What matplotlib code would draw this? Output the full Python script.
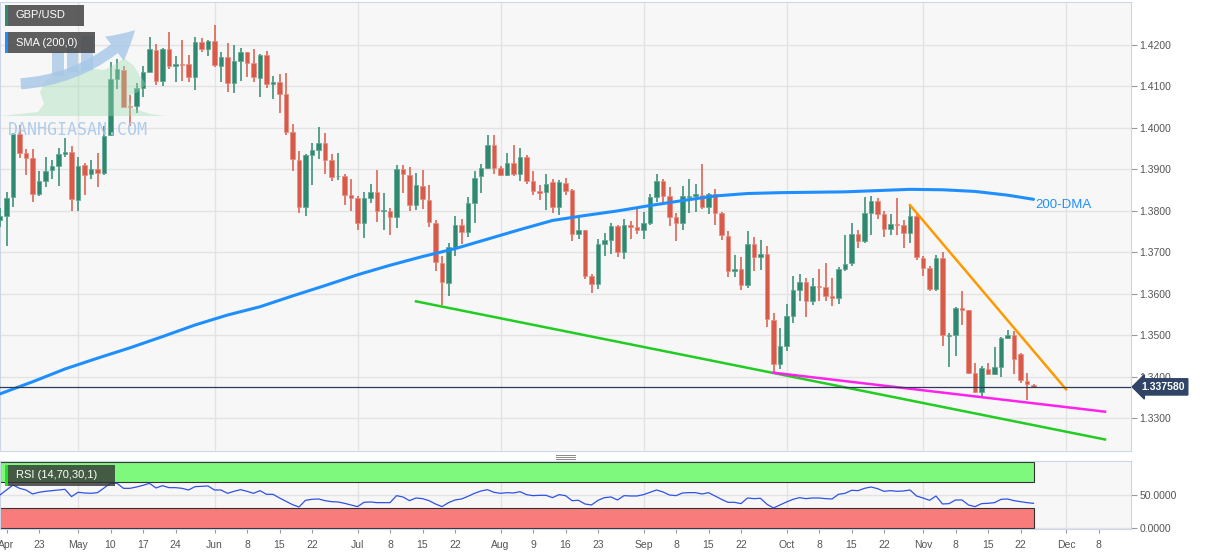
import numpy as np
import pandas as pd
import matplotlib
matplotlib.use("Agg")
import matplotlib.pyplot as plt
from matplotlib.patches import Rectangle, Polygon, FancyArrowPatch
from matplotlib.ticker import FormatStrFormatter

plt.rcParams['font.family'] = ['Liberation Sans', 'DejaVu Sans']

# GBP/USD daily candles, one per weekday starting 2021-04-15
start_day = "2021-04-15"
opens = [1.3778, 1.3788, 1.3833, 1.3985, 1.3939, 1.3927, 1.3840, 1.3873, 1.3899, 1.3909,
         1.3938, 1.3941, 1.3826, 1.3911, 1.3889, 1.3901, 1.3891, 1.3983, 1.4119, 1.4140,
         1.4053, 1.4053, 1.4097, 1.4136, 1.4188, 1.4114, 1.4190, 1.4149, 1.4155, 1.4153,
         1.4122, 1.4207, 1.4190, 1.4210, 1.4150, 1.4171, 1.4108, 1.4161, 1.4182, 1.4156,
         1.4120, 1.4177, 1.4106, 1.4112, 1.4082, 1.3990, 1.3922, 1.3810, 1.3934, 1.3946,
         1.3963, 1.3923, 1.3883, 1.3884, 1.3838, 1.3832, 1.3772, 1.3832, 1.3845, 1.3800,
         1.3801, 1.3786, 1.3902, 1.3887, 1.3814, 1.3861, 1.3827, 1.3770, 1.3675, 1.3627,
         1.3712, 1.3767, 1.3749, 1.3819, 1.3884, 1.3904, 1.3959, 1.3903, 1.3886, 1.3916,
         1.3890, 1.3930, 1.3872, 1.3847, 1.3845, 1.3870, 1.3810, 1.3868, 1.3850, 1.3745,
         1.3753, 1.3643, 1.3624, 1.3721, 1.3729, 1.3763, 1.3700, 1.3765, 1.3762, 1.3754,
         1.3770, 1.3833, 1.3873, 1.3836, 1.3786, 1.3772, 1.3834, 1.3837, 1.3838, 1.3809,
         1.3841, 1.3794, 1.3740, 1.3656, 1.3661, 1.3622, 1.3721, 1.3688, 1.3697, 1.3538,
         1.3430, 1.3474, 1.3547, 1.3610, 1.3628, 1.3582, 1.3620, 1.3616, 1.3596, 1.3590,
         1.3660, 1.3674, 1.3744, 1.3728, 1.3794, 1.3824, 1.3793, 1.3756, 1.3769, 1.3765,
         1.3746, 1.3788, 1.3686, 1.3662, 1.3612, 1.3686, 1.3498, 1.3500, 1.3565, 1.3560,
         1.3410, 1.3364, 1.3419, 1.3407, 1.3423, 1.3494, 1.3500, 1.3454, 1.3391, 1.3380]
highs = [1.3808, 1.3846, 1.3988, 1.4007, 1.3949, 1.3949, 1.3896, 1.3929, 1.3923, 1.3951,
         1.3975, 1.3957, 1.3931, 1.3916, 1.3923, 1.3940, 1.4005, 1.4158, 1.4166, 1.4149,
         1.4079, 1.4109, 1.4150, 1.4220, 1.4202, 1.4192, 1.4232, 1.4173, 1.4212, 1.4176,
         1.4220, 1.4218, 1.4212, 1.4248, 1.4182, 1.4204, 1.4199, 1.4192, 1.4184, 1.4190,
         1.4179, 1.4185, 1.4126, 1.4130, 1.4133, 1.4010, 1.3944, 1.3938, 1.3964, 1.4002,
         1.3988, 1.3938, 1.3940, 1.3888, 1.3876, 1.3836, 1.3846, 1.3864, 1.3898, 1.3844,
         1.3808, 1.3910, 1.3911, 1.3906, 1.3892, 1.3898, 1.3862, 1.3779, 1.3691, 1.3723,
         1.3787, 1.3781, 1.3834, 1.3896, 1.3914, 1.3984, 1.3984, 1.3908, 1.3940, 1.3960,
         1.3952, 1.3936, 1.3896, 1.3863, 1.3889, 1.3876, 1.3875, 1.3879, 1.3854, 1.3786,
         1.3755, 1.3648, 1.3733, 1.3747, 1.3770, 1.3766, 1.3781, 1.3775, 1.3805, 1.3798,
         1.3840, 1.3890, 1.3876, 1.3857, 1.3794, 1.3860, 1.3878, 1.3865, 1.3913, 1.3843,
         1.3852, 1.3798, 1.3752, 1.3693, 1.3690, 1.3752, 1.3737, 1.3730, 1.3716, 1.3554,
         1.3518, 1.3576, 1.3642, 1.3648, 1.3638, 1.3638, 1.3660, 1.3674, 1.3638, 1.3666,
         1.3742, 1.3772, 1.3754, 1.3833, 1.3836, 1.3830, 1.3801, 1.3793, 1.3830, 1.3777,
         1.3812, 1.3796, 1.3692, 1.3668, 1.3694, 1.3700, 1.3506, 1.3568, 1.3608, 1.3562,
         1.3434, 1.3426, 1.3434, 1.3472, 1.3496, 1.3514, 1.3510, 1.3458, 1.3410, 1.3383]
lows = [1.3761, 1.3715, 1.3810, 1.3927, 1.3887, 1.3822, 1.3836, 1.3858, 1.3876, 1.3861,
        1.3929, 1.3801, 1.3801, 1.3838, 1.3876, 1.3857, 1.3887, 1.3980, 1.4094, 1.4050,
        1.4005, 1.4035, 1.4074, 1.4134, 1.4104, 1.4100, 1.4141, 1.4112, 1.4114, 1.4112,
        1.4092, 1.4182, 1.4174, 1.4147, 1.4112, 1.4086, 1.4084, 1.4114, 1.4122, 1.4110,
        1.4074, 1.4096, 1.4070, 1.4036, 1.3984, 1.3896, 1.3794, 1.3788, 1.3862, 1.3926,
        1.3890, 1.3872, 1.3874, 1.3814, 1.3800, 1.3754, 1.3734, 1.3818, 1.3774, 1.3754,
        1.3742, 1.3758, 1.3842, 1.3800, 1.3802, 1.3805, 1.3762, 1.3655, 1.3574, 1.3594,
        1.3692, 1.3721, 1.3737, 1.3770, 1.3843, 1.3900, 1.3890, 1.3884, 1.3884, 1.3885,
        1.3873, 1.3866, 1.3839, 1.3827, 1.3802, 1.3795, 1.3791, 1.3839, 1.3727, 1.3733,
        1.3635, 1.3603, 1.3612, 1.3691, 1.3697, 1.3689, 1.3683, 1.3733, 1.3745, 1.3732,
        1.3766, 1.3822, 1.3820, 1.3764, 1.3728, 1.3753, 1.3796, 1.3798, 1.3805, 1.3793,
        1.3766, 1.3729, 1.3640, 1.3640, 1.3610, 1.3614, 1.3656, 1.3658, 1.3520, 1.3411,
        1.3418, 1.3462, 1.3531, 1.3584, 1.3544, 1.3574, 1.3584, 1.3584, 1.3570, 1.3576,
        1.3654, 1.3668, 1.3710, 1.3722, 1.3742, 1.3780, 1.3737, 1.3742, 1.3742, 1.3710,
        1.3722, 1.3682, 1.3644, 1.3606, 1.3606, 1.3474, 1.3424, 1.3451, 1.3526, 1.3408,
        1.3362, 1.3355, 1.3405, 1.3405, 1.3400, 1.3492, 1.3408, 1.3386, 1.3344, 1.3372]
closes = [1.3788, 1.3832, 1.3985, 1.3940, 1.3927, 1.3840, 1.3872, 1.3897, 1.3909, 1.3937,
          1.3941, 1.3828, 1.3909, 1.3887, 1.3901, 1.3891, 1.3981, 1.4117, 1.4141, 1.4051,
          1.4050, 1.4097, 1.4134, 1.4190, 1.4114, 1.4190, 1.4149, 1.4155, 1.4151, 1.4122,
          1.4207, 1.4190, 1.4210, 1.4151, 1.4171, 1.4108, 1.4161, 1.4182, 1.4156, 1.4122,
          1.4177, 1.4106, 1.4111, 1.4082, 1.3990, 1.3924, 1.3810, 1.3934, 1.3946, 1.3963,
          1.3922, 1.3882, 1.3885, 1.3838, 1.3832, 1.3770, 1.3832, 1.3846, 1.3801, 1.3802,
          1.3786, 1.3902, 1.3888, 1.3814, 1.3862, 1.3829, 1.3773, 1.3677, 1.3628, 1.3712,
          1.3767, 1.3749, 1.3818, 1.3880, 1.3903, 1.3959, 1.3904, 1.3886, 1.3916, 1.3890,
          1.3930, 1.3873, 1.3847, 1.3842, 1.3865, 1.3810, 1.3869, 1.3847, 1.3745, 1.3755,
          1.3643, 1.3624, 1.3721, 1.3729, 1.3763, 1.3700, 1.3765, 1.3761, 1.3755, 1.3770,
          1.3833, 1.3873, 1.3836, 1.3786, 1.3772, 1.3836, 1.3836, 1.3840, 1.3810, 1.3841,
          1.3794, 1.3741, 1.3656, 1.3661, 1.3622, 1.3721, 1.3688, 1.3697, 1.3539, 1.3430,
          1.3474, 1.3547, 1.3610, 1.3628, 1.3582, 1.3620, 1.3616, 1.3596, 1.3590, 1.3660,
          1.3672, 1.3744, 1.3728, 1.3794, 1.3824, 1.3793, 1.3756, 1.3769, 1.3766, 1.3746,
          1.3788, 1.3688, 1.3662, 1.3612, 1.3686, 1.3500, 1.3501, 1.3565, 1.3561, 1.3410,
          1.3364, 1.3422, 1.3407, 1.3423, 1.3494, 1.3500, 1.3444, 1.3392, 1.3382, 1.33758]

# 200-day SMA, read every 5th session plus the last one
sma_step = 5
sma200 = [1.3359, 1.3388, 1.3419, 1.3445, 1.3470, 1.3497, 1.3525, 1.3549, 1.3569, 1.3595,
          1.3620, 1.3646, 1.3669, 1.3690, 1.3709, 1.3732, 1.3755, 1.3777, 1.3789, 1.3800,
          1.3813, 1.3825, 1.3836, 1.3842, 1.3844, 1.3845, 1.3846, 1.3849, 1.3852, 1.3851,
          1.3847, 1.3838, 1.3828]

rsi14 = [50, 57.5, 65, 60, 57.5, 51.5, 54, 55.5, 56.5, 57.5,
         58.5, 47.5, 54, 53, 52.5, 53.5, 60.5, 67.5, 67.5, 60,
         60, 62, 64.5, 67.5, 60.5, 64, 61, 61, 60, 57.5,
         62.5, 63, 63.5, 57.5, 57.5, 52.5, 55.5, 58, 55.5, 52.5,
         56.5, 51, 51, 45.5, 40.5, 35.5, 32, 42, 43.5, 44,
         41.5, 40, 39.5, 37.5, 35, 32.5, 39, 39.5, 38.5, 38.5,
         38.5, 49, 47, 41.5, 45.5, 44.5, 41.5, 36.5, 32.5, 38.5,
         42.5, 44, 48, 52.5, 56, 58, 54, 52.5, 53.5, 53,
         55, 50.5, 49, 49.5, 49.5, 46, 50.5, 49, 41.5, 42,
         36.5, 35, 42, 46, 47, 42.5, 49, 48.5, 48.5, 50.5,
         54, 57.5, 54.5, 50, 49, 53, 53.5, 53.5, 51.5, 53.5,
         48.5, 43.5, 39, 39, 37, 45.5, 44.5, 45, 36, 30.5,
         35, 39.5, 43.5, 46, 44.5, 45.5, 45.5, 44.5, 44, 51,
         52.5, 57, 56.5, 60, 62, 59.5, 55.5, 56.5, 55.5, 56,
         57.5, 48.5, 45.5, 42, 48.5, 36.5, 37, 42.5, 42.5, 35,
         32.5, 37, 37.5, 38.5, 43.5, 44, 41.5, 40, 38.5, 37.5]

# trend lines as (session index, price) end points
line_green = [(64, 1.3582), (170, 1.3249)]
line_pink = [(119, 1.3410), (170, 1.3316)]
line_orange = [(140, 1.3814), (164, 1.3370)]
last_price = 1.33758

tick_dates = ["2021-04-16", "2021-04-23", "2021-05-03", "2021-05-10", "2021-05-17", "2021-05-24",
              "2021-06-01", "2021-06-08", "2021-06-15", "2021-06-22", "2021-07-01", "2021-07-08",
              "2021-07-15", "2021-07-22", "2021-08-02", "2021-08-09", "2021-08-16", "2021-08-23",
              "2021-09-01", "2021-09-08", "2021-09-15", "2021-09-22", "2021-10-01", "2021-10-08",
              "2021-10-15", "2021-10-22", "2021-11-01", "2021-11-08", "2021-11-15", "2021-11-22",
              "2021-12-01", "2021-12-08"]
tick_labels = ["Apr", "23", "May", "10", "17", "24", "Jun", "8", "15", "22", "Jul", "8",
               "15", "22", "Aug", "9", "16", "23", "Sep", "8", "15", "22", "Oct", "8",
               "15", "22", "Nov", "8", "15", "22", "Dec", "8"]

W, H = 1207, 555
PX_PER_BAR = 6.5


def fx(x):
    return x / W


def fy(y):
    return 1 - y / H


o = np.array(opens); h = np.array(highs); l = np.array(lows); c = np.array(closes)
n = len(o)
x = np.arange(n)
days = pd.bdate_range(start_day, periods=200)
tick_pos = days.get_indexer(pd.to_datetime(tick_dates))
month_pos = [p for p, t in zip(tick_pos, tick_labels) if t.isalpha()][1:]

fig = plt.figure(figsize=(W / 100, H / 100), dpi=100)
ax = fig.add_axes([0, fy(451), fx(1131), (451 - 2) / H])
ax2 = fig.add_axes([0, fy(529), fx(1131), (529 - 461) / H])

bg = '#f7f7f7'
grid_c = '#e3e3e3'
spine_c = '#cdd6e8'
for a in (ax, ax2):
    a.set_facecolor(bg)
    a.set_xlim(0, 1131 / PX_PER_BAR)
    for s in a.spines.values():
        s.set_color(spine_c)
    for m in month_pos:
        a.axvline(m, color=grid_c, lw=1, zorder=0)

# main price panel
ax.set_ylim(1.42 - 406 / 4148, 1.42 + 43 / 4148)
ax.set_yticks(np.arange(1.33, 1.4201, 0.01))
ax.yaxis.set_major_formatter(FormatStrFormatter('%.4f'))
ax.grid(axis='y', color=grid_c, lw=1, zorder=0)
ax.set_axisbelow(True)
ax.tick_params(axis='y', left=False, labelleft=False, right=True, labelright=True,
               length=4, color='#999999', labelsize=7.5, labelcolor='#555555', pad=2)
ax.tick_params(axis='x', bottom=False, labelbottom=False)

up = c >= o
body_c = np.where(up, '#2f8870', '#d85a48')
edge_c = np.where(up, '#5ea48f', '#e98a7e')
ax.vlines(x, l, h, colors=body_c, lw=1.1, zorder=3)
ax.bar(x, np.maximum(np.abs(c - o), 0.00004), bottom=np.minimum(o, c), width=0.74,
       color=body_c, edgecolor=edge_c, linewidth=0.5, zorder=4)

sma_x = list(range(0, n, sma_step)) + [n - 1]
ax.plot(sma_x, sma200, color='#1f8fff', lw=2.2, zorder=5, solid_capstyle='round')
ax.annotate('200-DMA', (n - 1, sma200[-1]), xytext=(1, -4), textcoords='offset points',
            va='center', ha='left', color='#1f8fff', fontsize=9.5, zorder=6)

for pts, col in ((line_green, '#22cc22'), (line_pink, '#ff22ee'), (line_orange, '#ff9900')):
    ax.plot([p[0] for p in pts], [p[1] for p in pts], color=col, lw=1.8, zorder=5)

ax.axhline(last_price, color='#2b3b57', lw=0.9, zorder=6)
ax.text(1.009, last_price, '%.6f' % last_price, transform=ax.get_yaxis_transform(),
        ha='left', va='center', color='white', fontsize=7.5, fontweight='bold',
        bbox=dict(boxstyle='larrow,pad=0.3', fc='#2f4466', ec='#2f4466'), clip_on=False)

# RSI panel
ax2.set_ylim(-1.05, 101)
ax2.add_patch(Rectangle((0, 70), n - 1, 30, fc='#7ef97e', ec='#333333', lw=0.8, zorder=1))
ax2.add_patch(Rectangle((0, 0), n - 1, 30, fc='#f97c7c', ec='#333333', lw=0.8, zorder=1))
ax2.plot(x, rsi14, color='#2f52e6', lw=0.9, zorder=3)
ax2.set_yticks([0, 50])
ax2.set_yticklabels(['0.0000', '50.0000'])
ax2.grid(axis='y', color=grid_c, lw=1, zorder=0)
ax2.set_axisbelow(True)
ax2.tick_params(axis='y', left=False, labelleft=False, right=True, labelright=True,
                length=4, color='#999999', labelsize=7.5, labelcolor='#555555', pad=2)
ax2.set_xticks(tick_pos)
ax2.set_xticklabels(tick_labels)
ax2.tick_params(axis='x', length=3, color='#999999', labelsize=7.5, labelcolor='#555555', pad=5)

# panel splitter handle
for yy in (454.5, 456.5, 458.5):
    fig.add_artist(plt.Line2D([fx(556), fx(575)], [fy(yy), fy(yy)], color='#8a8a8a', lw=0.7))

# watermark logo (bull, bars, arrow) and site name
bull = [(0, 116), (165, 116), (150, 114), (132, 108), (128, 96), (138, 92), (146, 84),
        (140, 76), (134, 66), (124, 58), (116, 64), (104, 70), (84, 68), (62, 72),
        (46, 80), (40, 92), (44, 104), (38, 112)]
fig.add_artist(Polygon([(fx(px), fy(py)) for px, py in bull], closed=True,
                       fc='#9fdcb2', ec='none', alpha=0.4, zorder=7))
for x0, y0, x1, y1 in ((52, 52, 64, 76), (67, 42, 78, 72), (81, 36, 93, 70)):
    fig.add_artist(Rectangle((fx(x0), fy(y1)), (x1 - x0) / W, (y1 - y0) / H,
                             fc='#a5c6e6', ec='none', alpha=0.75, zorder=7))
fig.add_artist(FancyArrowPatch((fx(18), fy(84)), (fx(137), fy(28)), transform=fig.transFigure,
                               connectionstyle='arc3,rad=0.2',
                               arrowstyle='simple,head_length=1.0,head_width=1.1,tail_width=0.4',
                               mutation_scale=20, fc='#a6c7e8', ec='none', alpha=0.8, zorder=7))
fig.text(fx(8), fy(130), 'DANHGIASAN.COM', fontsize=12, family='DejaVu Sans Mono',
         color='#a9c8e8', alpha=0.9, va='center', ha='left', zorder=8)


def tag(x0, y0, x1, y1, text, face, alpha, stripe):
    fig.add_artist(Rectangle((fx(x0), fy(y1)), (x1 - x0) / W, (y1 - y0) / H,
                             fc=face, ec='none', alpha=alpha, zorder=9))
    fig.add_artist(Rectangle((fx(x0), fy(y1)), 2.5 / W, (y1 - y0) / H,
                             fc=stripe, ec='none', zorder=10))
    fig.text(fx(x0 + 11), fy((y0 + y1) / 2), text, color='white', fontsize=8,
             va='center', ha='left', zorder=11)


tag(5, 5, 84, 26, 'GBP/USD', '#4d4d4d', 0.9, '#2e8b6e')
tag(5, 32, 95, 53, 'SMA (200,0)', '#4d4d4d', 0.9, '#1f8fff')
tag(5, 465, 115, 486, 'RSI (14,70,30,1)', '#333333', 0.8, '#22dd22')

fig.savefig('out.png', dpi=100, facecolor='white')
